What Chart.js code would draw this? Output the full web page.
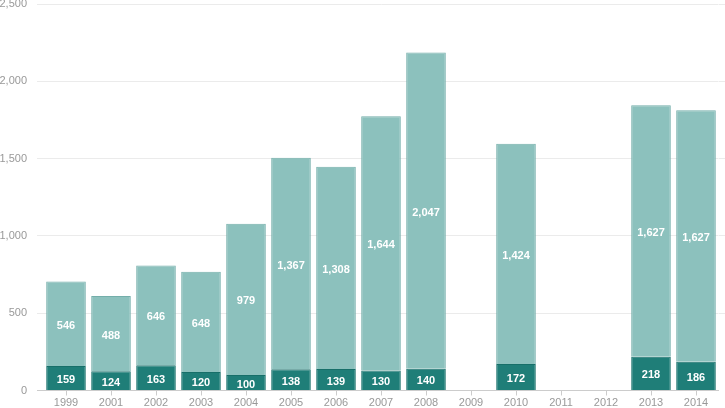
<!DOCTYPE html>
<html>

<head>
    <script src="https://cdn.jsdelivr.net/npm/chart.js@4.4.0/dist/chart.umd.min.js"></script>
    <style>
        body {
            margin: 0;
            background: #ffffff;
        }

        .chart {
            width: 725px;
            height: 408px;
        }
    </style>
</head>

<body>
    <div class="chart">
        <canvas id="stacked-bar"></canvas>
    </div>

    <script>
        const years = ['1999', '2001', '2002', '2003', '2004', '2005', '2006', '2007',
            '2008', '2009', '2010', '2011', '2012', '2013', '2014'
        ]
        const lower = [159, 124, 163, 120, 100, 138, 139, 130, 140, null, 172, null, null, 218, 186]
        const upper = [546, 488, 646, 648, 979, 1367, 1308, 1644, 2047, null, 1424, null, null, 1627, 1627]
        const yTicks = [0, 500, 1000, 1500, 2000, 2500]

        const fontFamily = '"Liberation Sans", Arial, Helvetica, sans-serif'

        function fmt(v) {
            return String(v).replace(/\B(?=(\d{3})+(?!\d))/g, ',')
        }

        // white value labels in the middle of each segment
        const segmentLabels = {
            id: 'segmentLabels',
            afterDatasetsDraw(chart) {
                const ctx = chart.ctx
                ctx.save()
                ctx.fillStyle = '#ffffff'
                ctx.font = 'bold 11px ' + fontFamily
                ctx.textAlign = 'center'
                ctx.textBaseline = 'middle'
                chart.data.datasets.forEach((ds, i) => {
                    chart.getDatasetMeta(i).data.forEach((bar, j) => {
                        const v = ds.data[j]
                        if (v == null) return
                        ctx.fillText(fmt(v), bar.x, (bar.y + bar.base) / 2 + 2)
                    })
                })
                ctx.restore()
            }
        }

        // drop the extra room chart.js keeps for half-height tick labels
        function noOverflow(scale) {
            scale.paddingTop = 0
            scale.paddingBottom = 0
            scale.paddingLeft = 0
            scale.paddingRight = 0
        }

        new Chart(document.getElementById('stacked-bar').getContext('2d'), {
            type: 'bar',
            data: {
                labels: years,
                datasets: [{
                    label: 'lower',
                    backgroundColor: '#1f7e78',
                    borderColor: '#176f69',
                    borderWidth: 1,
                    data: lower
                }, {
                    label: 'upper',
                    backgroundColor: '#8cc1bd',
                    borderColor: '#74aeaa',
                    borderWidth: 1,
                    data: upper
                }]
            },
            options: {
                locale: 'en-US',
                animation: false,
                maintainAspectRatio: false,
                responsive: true,
                layout: {
                    padding: { top: 4, left: 0, right: 0, bottom: 0 }
                },
                datasets: {
                    bar: {
                        categoryPercentage: 1,
                        barPercentage: 0.88
                    }
                },
                plugins: {
                    legend: { display: false },
                    tooltip: { enabled: false }
                },
                scales: {
                    x: {
                        stacked: true,
                        offset: true,
                        border: { display: true, color: '#cccccc' },
                        grid: {
                            offset: false,
                            drawOnChartArea: false,
                            drawTicks: true,
                            tickLength: 5,
                            color: '#cccccc'
                        },
                        ticks: {
                            color: '#999999',
                            font: { family: fontFamily, size: 11 },
                            padding: 1,
                            maxRotation: 0,
                            autoSkip: false
                        },
                        afterFit(scale) {
                            scale.height = 17.5
                            noOverflow(scale)
                        }
                    },
                    y: {
                        stacked: true,
                        min: 0,
                        max: 2500,
                        afterBuildTicks(scale) {
                            scale.ticks = yTicks.map(v => ({ value: v }))
                        },
                        border: { display: false },
                        grid: {
                            tickLength: 6.5,
                            color: ctx => ctx.tick && ctx.tick.value === 0 ? '#cccccc' : '#ebebeb'
                        },
                        ticks: {
                            color: '#999999',
                            font: { family: fontFamily, size: 11 },
                            padding: 10,
                            callback: v => fmt(v)
                        },
                        afterFit(scale) {
                            scale.width = 43.5
                            noOverflow(scale)
                        }
                    },
                    y2: {
                        position: 'right',
                        min: 0,
                        max: 2500,
                        afterBuildTicks(scale) {
                            scale.ticks = yTicks.map(v => ({ value: v }))
                        },
                        border: { display: false },
                        grid: {
                            drawOnChartArea: false,
                            tickLength: 6.5,
                            color: ctx => ctx.tick && ctx.tick.value === 0 ? 'rgba(0,0,0,0)' : '#ebebeb'
                        },
                        ticks: { display: false },
                        afterFit(scale) {
                            scale.width = 6.5
                            noOverflow(scale)
                        }
                    }
                }
            },
            plugins: [segmentLabels]
        });
    </script>
</body>

</html>
